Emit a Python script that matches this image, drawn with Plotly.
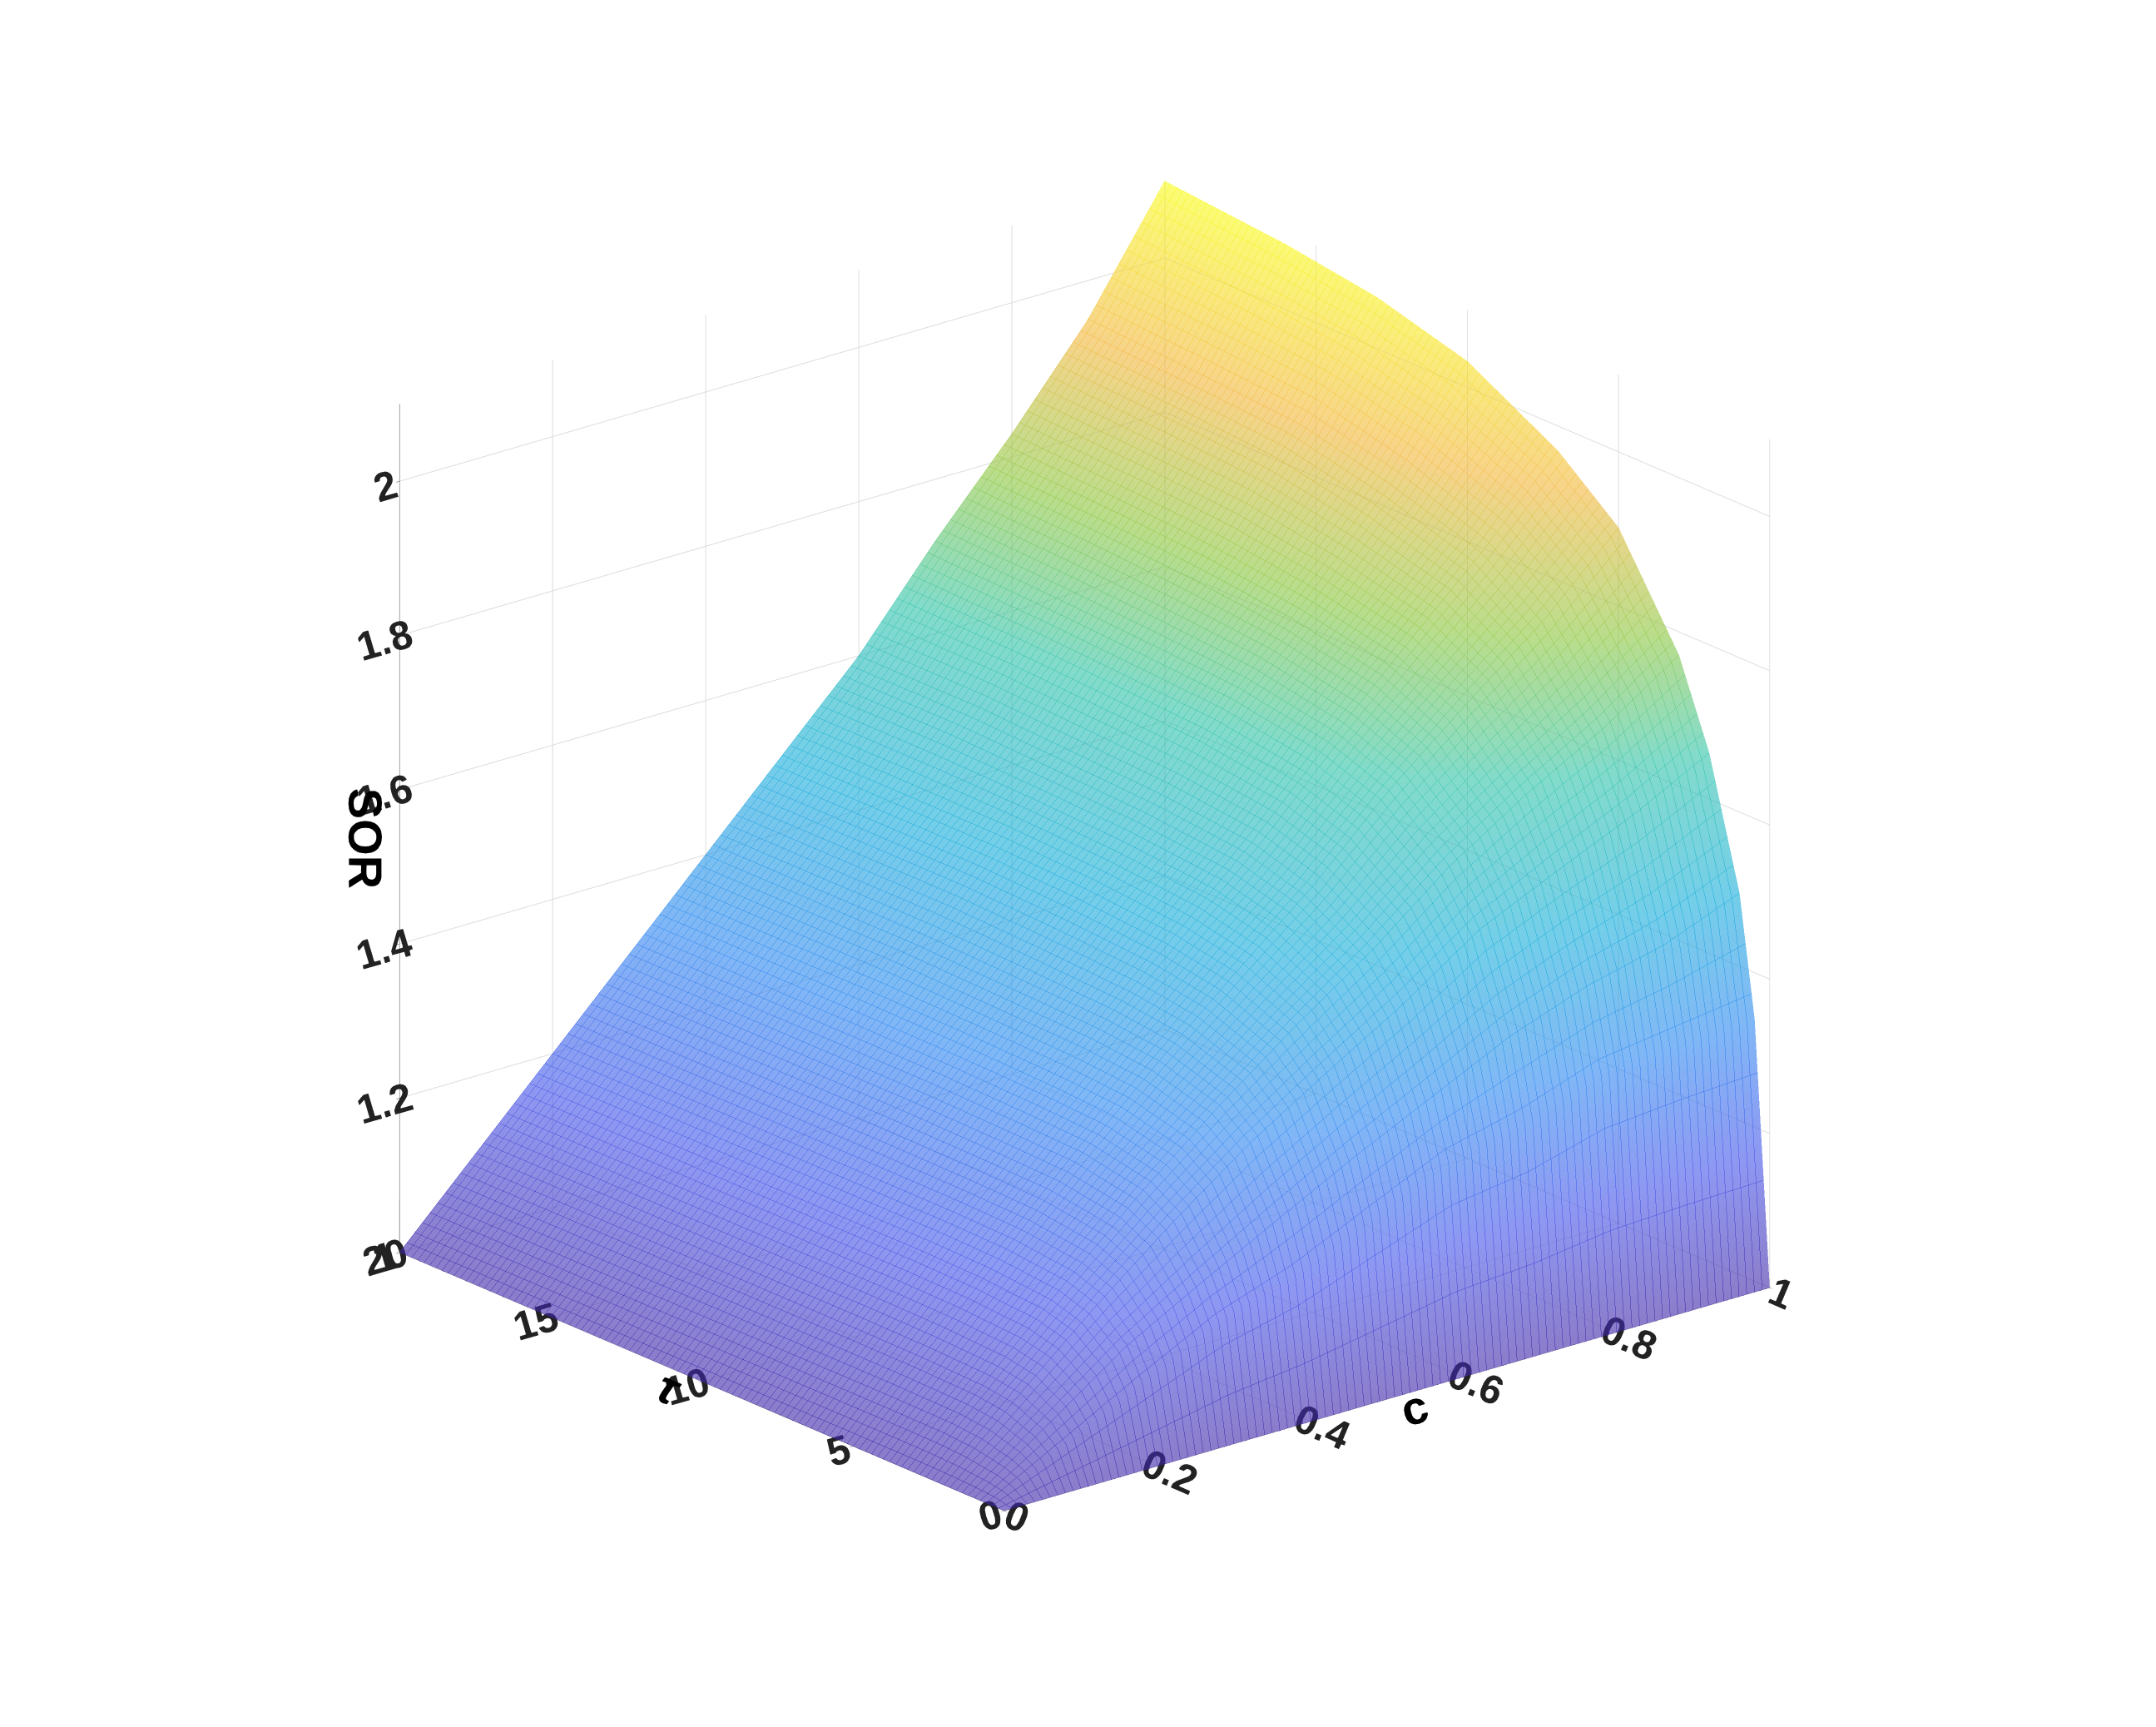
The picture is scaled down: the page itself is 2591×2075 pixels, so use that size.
import plotly.graph_objects as go

c_vals = [0, 0.05, 0.1, 0.2, 0.3, 0.4, 0.5, 0.6, 0.7, 0.8, 0.9, 1.0]
tau_vals = [0, 0.5, 1, 2, 3, 5, 7, 10, 13, 16, 20]
sor = [
    [1, 1, 1, 1, 1, 1, 1, 1, 1, 1, 1, 1],
    [1, 1.025, 1.05, 1.10, 1.15, 1.18, 1.225, 1.27, 1.288, 1.322, 1.333, 1.34],
    [1, 1.035, 1.07, 1.14, 1.195, 1.248, 1.30, 1.348, 1.396, 1.432, 1.456, 1.495],
    [1, 1.045, 1.09, 1.176, 1.255, 1.328, 1.39, 1.45, 1.518, 1.564, 1.608, 1.66],
    [1, 1.049, 1.096, 1.19, 1.279, 1.36, 1.435, 1.504, 1.583, 1.647, 1.703, 1.77],
    [1, 1.05, 1.099, 1.198, 1.294, 1.384, 1.47, 1.552, 1.648, 1.730, 1.808, 1.902],
    [1, 1.05, 1.1, 1.2, 1.297, 1.392, 1.485, 1.576, 1.677, 1.772, 1.865, 1.968],
    [1, 1.05, 1.1, 1.2, 1.3, 1.396, 1.495, 1.588, 1.698, 1.797, 1.903, 2.034],
    [1, 1.05, 1.1, 1.2, 1.3, 1.4, 1.5, 1.594, 1.706, 1.813, 1.931, 2.067],
    [1, 1.05, 1.1, 1.2, 1.3, 1.4, 1.5, 1.6, 1.713, 1.822, 1.94, 2.085],
    [1, 1.05, 1.1, 1.2, 1.3, 1.4, 1.5, 1.6, 1.72, 1.83, 1.95, 2.1],
]
z_ticks = [1, 1.2, 1.4, 1.6, 1.8, 2]

parula = [[0, "#3e26a8"], [0.15, "#4352e8"], [0.3, "#2c86f0"], [0.45, "#16adda"],
          [0.6, "#2fc3a8"], [0.72, "#8cc63e"], [0.85, "#f2b73a"], [1, "#f9fb15"]]

fig = go.Figure(go.Surface(
    x=c_vals, y=tau_vals, z=sor, colorscale=parula, cmin=1, cmax=2.1,
    opacity=0.6, showscale=False,
    contours=dict(
        x=dict(show=True, start=0, end=1, size=0.01, usecolormap=True, width=1),
        y=dict(show=True, start=0, end=20, size=0.2, usecolormap=True, width=1),
    ),
    lighting=dict(ambient=1, diffuse=0, specular=0),
))

ax = dict(showbackground=False, gridcolor="#dcdcdc", showline=True, linecolor="#444",
          tickfont=dict(size=24, family="Arial", color="#222", weight="bold"), ticks="outside")
tf = dict(size=56, color="black", family="Arial")
fig.update_layout(
    width=2591, height=2075, paper_bgcolor="white",
    margin=dict(l=0, r=0, t=0, b=0),
    font=dict(family="Arial"),
    scene=dict(
        xaxis=dict(ax, title=dict(text="<b>c</b>", font=tf), range=[0, 1], dtick=0.2),
        yaxis=dict(ax, title=dict(text="<b><i>τ</i></b>", font=tf), range=[0, 20], dtick=5),
        zaxis=dict(ax, title=dict(text="<b>SOR</b>", font=tf), range=[1, 2.1],
                   tickvals=z_ticks),
        aspectmode="manual", aspectratio=dict(x=1.15, y=1.1, z=1.05),
        camera=dict(eye=dict(x=-0.76, y=-0.92, z=0.42), center=dict(x=0, y=0, z=-0.03),
                    projection=dict(type="orthographic")),
    ),
)
fig.write_html("out.html")
